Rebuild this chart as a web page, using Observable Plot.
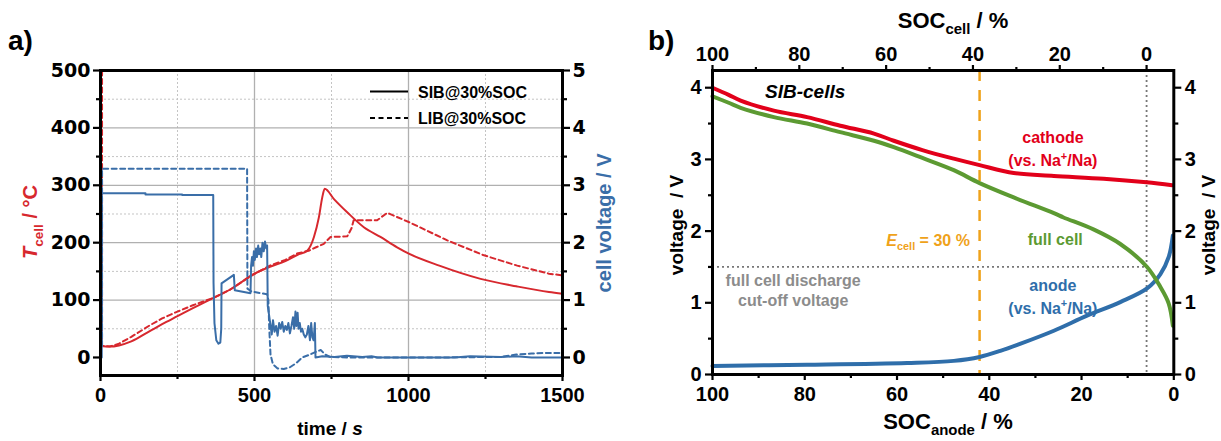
<!DOCTYPE html>
<html><head><meta charset="utf-8">
<script src="https://cdn.jsdelivr.net/npm/d3@7"></script>
<script src="https://cdn.jsdelivr.net/npm/@observablehq/plot@0.6"></script>
<style>
body{margin:0;background:#fff;}
#wrap{position:relative;width:1221px;height:441px;overflow:hidden;background:#fff;}
#wrap svg{position:absolute;top:0;}
</style></head><body><div id="wrap"></div>
<script>
const FONT = "'Liberation Sans', Arial, Helvetica, sans-serif";
const WIDE = "'DejaVu Sans', 'Liberation Sans', sans-serif";
const RED_A = "#d7282e", BLUE_A = "#3a6ea8";
const RED_B = "#e2001a", GREEN_B = "#5c9a32", BLUE_B = "#2f6eaa", ORANGE_B = "#efa21a", GRAY_B = "#8c8c8c";

// ---------- panel a data ----------
const sibTempTime = [0,30,60,100,160,200,250,300,367,420,497,550,600,640,671,693,709,720,728,758,801,855,909,963,1001,1100,1234,1350,1456,1500];
const sibTemp     = [20,19,21,28,46,58,72,86,104,118,145,158,168,179,186,210,244,279,294,276,253,227,210,192,181,160,137,124,114,111];
const libTempTime = [5,5,30,60,100,160,200,250,300,367,420,497,550,600,638,676,700,725,747,801,815,822,898,931,1001,1126,1245,1353,1456,1500];
const libTemp     = [500,20,19,24,36,56,68,80,91,104,118,145,160,170,181,186,192,198,210,211,225,239,239,252,236,204,178,160,146,143];
// [time s, voltage V]
const sibVoltage = [[4,0],[4,2.86],[146,2.86],[146,2.84],[265,2.84],[265,2.83],[366,2.83],[367,1.3],[370,0.6],[376,0.3],[383,0.24],[389,0.26],[392,0.5],[393,1.29],[433,1.44],[436,1.17],[487,1.12],[489,1.6],[492,1.75],[495,1.6],[498,1.85],[501,1.7],[505,1.9],[508,1.75],[512,1.95],[515,1.8],[519,1.9],[522,1.75],[526,2.0],[530,1.85],[534,2.02],[538,1.9],[541,1.95],[543,0.9],[547,0.75],[551,0.6],[556,0.4],[560,0.65],[565,0.45],[570,0.55],[575,0.38],[580,0.6],[585,0.5],[590,0.62],[595,0.45],[600,0.55],[605,0.48],[610,0.6],[615,0.42],[620,0.55],[625,0.7],[629,0.5],[633,0.8],[636,0.55],[640,0.78],[643,0.5],[647,0.6],[651,0.45],[655,0.5],[660,0.4],[665,0.35],[670,0.4],[675,0.55],[680,0.3],[684,0.6],[688,0.35],[692,0.3],[696,0.6],[698,0],[720,0.02],[760,0.01],[800,0.03],[850,0.01],[880,0.02],[900,0],[1150,0],[1200,0.02],[1300,0.01],[1350,0.02],[1400,0],[1500,0]];
const libVoltage = [[5,0.2],[5,3.29],[476,3.29],[477,1.2],[490,1.15],[541,1.1],[545,1.0],[548,0.5],[552,0.05],[560,-0.12],[575,-0.19],[595,-0.2],[615,-0.17],[635,-0.1],[655,0],[680,0.05],[700,0.1],[715,0.13],[730,0.05],[745,0.01],[800,0],[1100,0],[1300,0.01],[1350,0.05],[1400,0.07],[1450,0.08],[1500,0.08]];
const timeTicks = [0,500,1000,1500];
const timeMinor = [250,750,1250];
const tempTicks = [0,100,200,300,400,500];
const tempMinor = [50,150,250,350,450];
const voltTicksA = [0,1,2,3,4,5];

// ---------- panel b data ----------
const cathodeSOC = [100,96.5,93.9,86.7,79.5,72.3,65,60.7,54.5,47.7,42.1,34.7,26,15.2,5.9,0.35];
const cathodeV   = [4.0,3.9,3.82,3.68,3.59,3.47,3.36,3.26,3.13,3.01,2.92,2.81,2.77,2.73,2.68,2.64];
const fullSOC = [100,96.5,93.9,86.7,79.5,72.3,65,60.7,54.5,47.7,42.1,34.7,26,23.9,17.3,11.6,5.8,2.9,1.1,0.2];
const fullV   = [3.88,3.79,3.72,3.59,3.50,3.38,3.26,3.17,3.02,2.85,2.67,2.47,2.25,2.19,2.02,1.82,1.50,1.22,0.99,0.68];
const anodeSOC = [100,79.5,57.8,47.7,42.1,37.6,33.2,26,18.8,11.6,5.8,2.9,1.1,0.2];
const anodeV   = [0.12,0.135,0.16,0.19,0.245,0.33,0.43,0.61,0.82,1.01,1.20,1.40,1.64,1.94];
const socTicks = [100,80,60,40,20,0];
const socMinor = [90,70,50,30,10];
const voltTicksB = [0,1,2,3,4];
const voltMinorB = [0.5,1.5,2.5,3.5];
const cellZeroAtAnode = 5.9;   // SOC_anode where SOC_cell = 0
const energyMarkAnode = 42.1;  // E_cell = 30 % line
const cutoffVoltage = 1.5;

const wrap = document.getElementById("wrap");
const rows = (xs, ys) => xs.map((x, i) => ({x, y: ys[i]}));
const pairRows = (ps, k = 1) => ps.map(([x, y]) => ({x, y: y * k}));
const fmt = d3.format("d");

// ================= Panel a =================
const axisStyle = {fontSize: 20, fontWeight: "bold", fill: "#000", stroke: "#000", strokeWidth: 2.2};
const wideAxis = {...axisStyle, fontSize: 19, fontFamily: WIDE};
const plotA = Plot.plot({
  width: 640, height: 441,
  marginLeft: 100, marginRight: 78, marginTop: 70, marginBottom: 66,
  style: {fontFamily: FONT, background: "transparent", overflow: "visible"},
  x: {domain: [0, 1500], label: null},
  y: {domain: [-31.4, 500], label: null},
  marks: [
    Plot.gridX({ticks: timeMinor, stroke: "#c4c4c4", strokeOpacity: 1, strokeDasharray: "2,2"}),
    Plot.gridY({ticks: tempMinor, stroke: "#c4c4c4", strokeOpacity: 1, strokeDasharray: "2,2"}),
    Plot.gridX({ticks: [500, 1000], stroke: "#b0b0b0", strokeOpacity: 1, strokeWidth: 1.3}),
    Plot.gridY({ticks: [100, 200, 300, 400], stroke: "#b0b0b0", strokeOpacity: 1, strokeWidth: 1.3}),
    Plot.line(rows(libTempTime, libTemp), {x: "x", y: "y", stroke: RED_A, strokeWidth: 2, strokeDasharray: "5,3.5"}),
    Plot.line(rows(sibTempTime, sibTemp), {x: "x", y: "y", stroke: RED_A, strokeWidth: 2, curve: "monotone-x"}),
    Plot.line(pairRows(libVoltage, 100), {x: "x", y: "y", stroke: BLUE_A, strokeWidth: 2, strokeDasharray: "5,3.5"}),
    Plot.line(pairRows(sibVoltage, 100), {x: "x", y: "y", stroke: BLUE_A, strokeWidth: 2}),
    Plot.frame({stroke: "#000", strokeWidth: 3}),
    Plot.axisX({ticks: timeTicks, tickSize: 6, tickPadding: 6, label: null, tickFormat: fmt, ...axisStyle}),
    Plot.axisX({ticks: timeMinor, tickSize: 4, label: null, tickFormat: () => "", ...axisStyle}),
    Plot.axisY({ticks: tempTicks, tickSize: 7, tickPadding: 3, label: null, tickFormat: fmt, ...wideAxis}),
    Plot.axisY({ticks: tempMinor, tickSize: 4, label: null, tickFormat: () => "", ...axisStyle}),
    Plot.axisY({anchor: "right", ticks: voltTicksA.map(v => v * 100), tickSize: 7, tickPadding: 3, label: null, tickFormat: d => fmt(d / 100), ...wideAxis}),
    Plot.axisY({anchor: "right", ticks: tempMinor, tickSize: 4, label: null, tickFormat: () => "", ...axisStyle})
  ]
});
plotA.style.left = "0px";
wrap.appendChild(plotA);

// ================= Panel b =================
const toAnode = c => cellZeroAtAnode + c * (100 - cellZeroAtAnode) / 100;
const toCell = a => (a - cellZeroAtAnode) / (100 - cellZeroAtAnode) * 100;
const plotB = Plot.plot({
  width: 600, height: 441,
  marginLeft: 72, marginRight: 66.7, marginTop: 70, marginBottom: 67,
  style: {fontFamily: FONT, background: "transparent", overflow: "visible"},
  x: {domain: [100, 0], label: null},
  y: {domain: [0, 4.24], label: null},
  marks: [
    Plot.ruleY([cutoffVoltage], {x1: 100, x2: cellZeroAtAnode, stroke: "#777", strokeWidth: 1.8, strokeDasharray: "2,3"}),
    Plot.ruleX([cellZeroAtAnode], {stroke: "#777", strokeWidth: 1.8, strokeDasharray: "2,3"}),
    Plot.ruleX([energyMarkAnode], {stroke: ORANGE_B, strokeWidth: 2.5, strokeDasharray: "11,9"}),
    Plot.line(rows(anodeSOC, anodeV), {x: "x", y: "y", stroke: BLUE_B, strokeWidth: 4, curve: "catmull-rom"}),
    Plot.line(rows(fullSOC, fullV), {x: "x", y: "y", stroke: GREEN_B, strokeWidth: 4, curve: "catmull-rom"}),
    Plot.line(rows(cathodeSOC, cathodeV), {x: "x", y: "y", stroke: RED_B, strokeWidth: 4, curve: "catmull-rom"}),
    Plot.frame({stroke: "#000", strokeWidth: 3}),
    Plot.axisX({ticks: socTicks, tickSize: 6, tickPadding: 6, label: null, tickFormat: fmt, ...axisStyle}),
    Plot.axisX({ticks: socMinor, tickSize: 4, label: null, tickFormat: () => "", ...axisStyle}),
    Plot.axisX({anchor: "top", ticks: socTicks.map(toAnode), tickSize: 6, tickPadding: 4, label: null, tickFormat: d => fmt(Math.round(toCell(d))), ...axisStyle}),
    Plot.axisX({anchor: "top", ticks: socMinor.map(toAnode), tickSize: 4, label: null, tickFormat: () => "", ...axisStyle}),
    Plot.axisY({ticks: voltTicksB, tickSize: 7, tickPadding: 4, label: null, tickFormat: fmt, ...axisStyle}),
    Plot.axisY({ticks: voltMinorB, tickSize: 4, label: null, tickFormat: () => "", ...axisStyle}),
    Plot.axisY({anchor: "right", ticks: voltTicksB, tickSize: 7, tickPadding: 4, label: null, tickFormat: fmt, ...axisStyle}),
    Plot.axisY({anchor: "right", ticks: voltMinorB, tickSize: 4, label: null, tickFormat: () => "", ...axisStyle})
  ]
});
plotB.style.left = "640px";
wrap.appendChild(plotB);

// ---------- rich text helper ----------
function rich(svg, {x, y, rotate = 0, anchor = "middle", size = 19, fill = "#000", style = "normal"}, parts) {
  const t = d3.select(svg).append("text")
    .attr("transform", `translate(${x},${y}) rotate(${rotate})`)
    .attr("text-anchor", anchor).attr("font-size", size).attr("font-weight", "bold")
    .attr("font-style", style).attr("fill", fill).attr("font-family", FONT);
  let shift = 0;
  for (const p of (typeof parts === "string" ? [{t: parts}] : parts)) {
    const target = p.sub ? size * 0.28 : p.sup ? -size * 0.4 : 0;
    const s = t.append("tspan").text(p.t).attr("dy", target - shift);
    shift = target;
    if (p.i) s.attr("font-style", "italic");
    if (p.sub || p.sup) s.attr("font-size", size * 0.68);
  }
}

// ---------- panel a titles & legend ----------
rich(plotA, {x: 8, y: 50, anchor: "start", size: 28}, "a)");
rich(plotA, {x: 37, y: 222, rotate: -90, size: 20, fill: RED_A}, [{t: "T", i: true}, {t: "cell", sub: true}, {t: " / °C"}]);
rich(plotA, {x: 611, y: 223, rotate: -90, size: 20, fill: BLUE_A}, "cell voltage / V");
rich(plotA, {x: 330, y: 435, size: 19}, [{t: "time / "}, {t: "s", i: true}]);
const lg = d3.select(plotA).append("g");
lg.append("line").attr("x1", 370).attr("x2", 408).attr("y1", 91.5).attr("y2", 91.5).attr("stroke", "#000").attr("stroke-width", 2);
lg.append("line").attr("x1", 370).attr("x2", 408).attr("y1", 118).attr("y2", 118).attr("stroke", "#000").attr("stroke-width", 2).attr("stroke-dasharray", "5,3.5");
rich(plotA, {x: 418, y: 97.5, anchor: "start", size: 16}, "SIB@30%SOC");
rich(plotA, {x: 418, y: 124, anchor: "start", size: 16}, "LIB@30%SOC");

// ---------- panel b titles & annotations ----------
const xb = plotB.scale("x"), yb = plotB.scale("y");
rich(plotB, {x: 8, y: 50, anchor: "start", size: 28}, "b)");
rich(plotB, {x: 313, y: 28, size: 22}, [{t: "SOC"}, {t: "cell", sub: true}, {t: " / %"}]);
rich(plotB, {x: 308, y: 429, size: 22}, [{t: "SOC"}, {t: "anode", sub: true}, {t: " / %"}]);
rich(plotB, {x: 43, y: 225, rotate: -90, size: 19}, "voltage  / V");
rich(plotB, {x: 575, y: 225, rotate: -90, size: 19}, "voltage  / V");
rich(plotB, {x: xb.apply(79.8), y: yb.apply(3.85), size: 19, style: "italic"}, "SIB-cells");
rich(plotB, {x: xb.apply(26.1), y: yb.apply(3.22), size: 16, fill: RED_B}, "cathode");
rich(plotB, {x: xb.apply(26.1), y: yb.apply(2.90), size: 16, fill: RED_B}, [{t: "(vs. Na"}, {t: "+", sup: true}, {t: "/Na)"}]);
rich(plotB, {x: xb.apply(25.6), y: yb.apply(1.80), size: 16, fill: GREEN_B}, "full cell");
rich(plotB, {x: xb.apply(26.1), y: yb.apply(1.16), size: 16, fill: BLUE_B}, "anode");
rich(plotB, {x: xb.apply(26.1), y: yb.apply(0.84), size: 16, fill: BLUE_B}, [{t: "(vs. Na"}, {t: "+", sup: true}, {t: "/Na)"}]);
rich(plotB, {x: xb.apply(44.1), y: yb.apply(1.79), anchor: "end", size: 16, fill: ORANGE_B}, [{t: "E", i: true}, {t: "cell", sub: true}, {t: " = 30 %"}]);
rich(plotB, {x: xb.apply(82.4), y: yb.apply(1.23), size: 16, fill: GRAY_B}, "full cell discharge");
rich(plotB, {x: xb.apply(82.4), y: yb.apply(0.95), size: 16, fill: GRAY_B}, "cut-off voltage");
</script></body></html>
